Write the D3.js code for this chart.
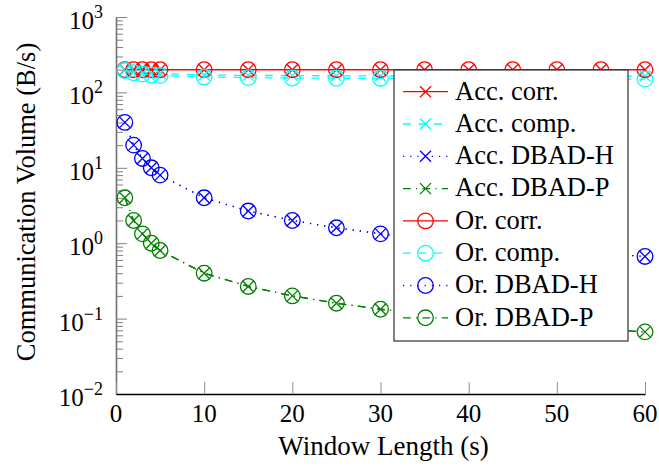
<!DOCTYPE html>
<html><head><meta charset="utf-8">
<script src="https://cdn.jsdelivr.net/npm/d3@7"></script>
<style>body{margin:0;background:#fff} svg{display:block} text{font-family:"Liberation Serif","DejaVu Serif",serif;}</style>
</head><body><svg id="c" width="659" height="466"></svg>
<script>
// ---- data ----
const windowLength = [1, 2, 3, 4, 5, 10, 15, 20, 25, 30, 35, 40, 45, 50, 55, 60];
const accCorr  = [200, 200, 200, 200, 200, 200, 200, 200, 200, 200, 200, 200, 200, 200, 200, 200];
const accComp  = [198, 190, 185, 180, 178, 170, 168, 167, 166, 165, 165, 165, 165, 165, 165, 165];
const accDbadH = [40, 20, 13.3, 10, 8, 4, 2.67, 2, 1.6, 1.33, 1.14, 1, 0.889, 0.8, 0.727, 0.667];
const accDbadP = [4, 2, 1.33, 1, 0.8, 0.4, 0.267, 0.2, 0.16, 0.133, 0.114, 0.1, 0.0889, 0.08, 0.0727, 0.0667];
const orCorr   = [200, 200, 200, 200, 200, 200, 200, 200, 200, 200, 200, 200, 200, 200, 200, 200];
const orComp   = [195, 182, 175, 170, 167, 160, 157, 155, 154, 153, 152, 152, 151, 151, 150, 150];
const orDbadH  = [40, 20, 13.3, 10, 8, 4, 2.67, 2, 1.6, 1.33, 1.14, 1, 0.889, 0.8, 0.727, 0.667];
const orDbadP  = [4, 2, 1.33, 1, 0.8, 0.4, 0.267, 0.2, 0.16, 0.133, 0.114, 0.1, 0.0889, 0.08, 0.0727, 0.0667];
const seriesNames = ["Acc. corr.", "Acc. comp.", "Acc. DBAD-H", "Acc. DBAD-P",
                     "Or. corr.", "Or. comp.", "Or. DBAD-H", "Or. DBAD-P"];
const xTicks = [0, 10, 20, 30, 40, 50, 60];
const yTicks = [1e-2, 1e-1, 1e0, 1e1, 1e2, 1e3];
const yTickExp = ["\u22122", "\u22121", "0", "1", "2", "3"];
const xLabel = "Window Length (s)";
const yLabel = "Communication Volume (B/s)";

// ---- styles ----
const seriesValues = [accCorr, accComp, accDbadH, accDbadP, orCorr, orComp, orDbadH, orDbadP];
const colors = ["#ff0000", "#00ffff", "#0000ff", "#008000", "#ff0000", "#00ffff", "#0000ff", "#008000"];
const dashes = ["none", "7.8,7.8", "1.2,6", "7.8,5.2,1.2,5.2", "none", "7.8,7.8", "1.2,6", "7.8,5.2,1.2,5.2"];
const marks = ["x", "x", "x", "x", "o", "o", "o", "o"];
const FONT = '"Liberation Serif","DejaVu Serif",serif';

const svg = d3.select("#c");
const L = 116, R = 645, T = 17, B = 394;
const x = d3.scaleLinear().domain([0, 60]).range([L, R]);
const y = d3.scaleLog().domain([1e-2, 1e3]).range([B, T]);

// minor y ticks
const minor = [];
for (let e = -2; e < 3; e++) for (let k = 2; k <= 9; k++) minor.push(k * Math.pow(10, e));
const gMinor = svg.append("g").attr("transform", `translate(${L},0)`)
  .call(d3.axisLeft(y).tickValues(minor).tickSize(-7).tickSizeOuter(0).tickFormat(""));
gMinor.select(".domain").remove();
gMinor.selectAll(".tick line").attr("stroke", "#808080").attr("stroke-width", 1);

const gY = svg.append("g").attr("transform", `translate(${L},0)`)
  .call(d3.axisLeft(y).tickValues(yTicks).tickSize(-11).tickSizeOuter(0).tickFormat(""));
gY.select(".domain").attr("stroke", "#707070").attr("stroke-width", 1.6);
gY.selectAll(".tick line").attr("stroke", "#808080").attr("stroke-width", 1);

const gX = svg.append("g").attr("transform", `translate(0,${B})`)
  .call(d3.axisBottom(x).tickValues(xTicks).tickSize(-12).tickSizeOuter(0).tickFormat(""));
gX.select(".domain").attr("stroke", "#000").attr("stroke-width", 1.6);
gX.selectAll(".tick line").attr("stroke", "#909090").attr("stroke-width", 1);

// tick labels
svg.append("g").selectAll("text").data(xTicks).join("text")
  .attr("x", d => x(d)).attr("y", 422).attr("text-anchor", "middle")
  .style("font-family", FONT).attr("font-size", 25).text(d => d);

const yl = svg.append("g").selectAll("text").data(yTicks).join("text")
  .attr("x", 103).attr("y", d => y(d) + 12).attr("text-anchor", "end")
  .style("font-family", FONT).attr("font-size", 25);
yl.append("tspan").text("10");
yl.append("tspan").attr("dy", -11).attr("font-size", 18).text((d, i) => yTickExp[i]);

// axis labels
svg.append("text").attr("x", (L + R) / 2 + 3).attr("y", 455).attr("text-anchor", "middle")
  .style("font-family", FONT).attr("font-size", 27).text(xLabel);
svg.append("text").attr("transform", `translate(35,202) rotate(-90)`)
  .attr("text-anchor", "middle").style("font-family", FONT).attr("font-size", 26.5).text(yLabel);

// markers
function drawMark(g, type, cx, cy, color) {
  if (type === "o") {
    g.append("circle").attr("cx", cx).attr("cy", cy).attr("r", 7.8)
      .attr("fill", "none").attr("stroke", color).attr("stroke-width", 1.3);
  } else {
    const s = 5.5;
    g.append("path").attr("d", `M${cx - s},${cy - s}L${cx + s},${cy + s}M${cx - s},${cy + s}L${cx + s},${cy - s}`)
      .attr("fill", "none").attr("stroke", color).attr("stroke-width", 1.3);
  }
}

const line = d3.line().x(d => x(d[0])).y(d => y(d[1]));
seriesValues.forEach((vals, i) => {
  const pts = windowLength.map((w, j) => [w, vals[j]]);
  const g = svg.append("g");
  g.append("path").attr("d", line(pts)).attr("fill", "none")
    .attr("stroke", colors[i]).attr("stroke-width", 1.3)
    .attr("stroke-dasharray", dashes[i]);
  pts.forEach(p => drawMark(g, marks[i], x(p[0]), y(p[1]), colors[i]));
});

// legend
const lg = svg.append("g");
lg.append("rect").attr("x", 394).attr("y", 70).attr("width", 234).attr("height", 271)
  .attr("fill", "#fff").attr("stroke", "#333").attr("stroke-width", 1.2);
seriesNames.forEach((name, i) => {
  const base = 99.5 + i * 32.3;
  const ly = base - 7.8;
  lg.append("line").attr("x1", 403).attr("x2", 448).attr("y1", ly).attr("y2", ly)
    .attr("stroke", colors[i]).attr("stroke-width", 1.3).attr("stroke-dasharray", dashes[i]);
  drawMark(lg, marks[i], 425.5, ly, colors[i]);
  lg.append("text").attr("x", 455).attr("y", base).style("font-family", FONT)
    .attr("font-size", 26.5).text(name);
});
</script>
</body></html>
